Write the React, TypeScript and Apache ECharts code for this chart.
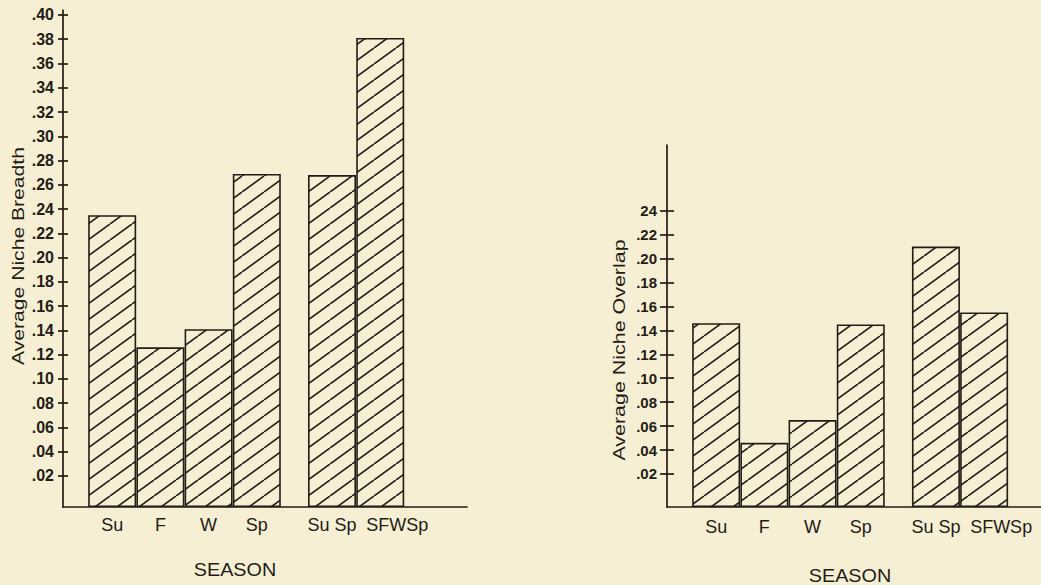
import React, { useEffect, useRef } from 'react';
import * as echarts from 'echarts';

// ---- data ----
const seasons = ['Su', 'F', 'W', 'Sp', 'Su Sp', 'SFWSp'];
const nicheBreadth = [0.235, 0.126, 0.141, 0.269, 0.268, 0.381];
const nicheOverlap = [0.146, 0.046, 0.065, 0.145, 0.21, 0.155];

const breadthTicks = [0.02, 0.04, 0.06, 0.08, 0.1, 0.12, 0.14, 0.16, 0.18, 0.2, 0.22, 0.24, 0.26, 0.28, 0.3, 0.32, 0.34, 0.36, 0.38, 0.4];
const breadthTickLabels = ['.02', '.04', '.06', '.08', '.10', '.12', '.14', '.16', '.18', '.20', '.22', '.24', '.26', '.28', '.30', '.32', '.34', '.36', '.38', '.40'];
const overlapTicks = [0.02, 0.04, 0.06, 0.08, 0.1, 0.12, 0.14, 0.16, 0.18, 0.2, 0.22, 0.24];
const overlapTickLabels = ['.02', '.04', '.06', '.08', '.10', '.12', '.14', '.16', '.18', '.20', '.22', '24'];

const xTitle = 'SEASON';
const breadthTitle = 'Average Niche Breadth';
const overlapTitle = 'Average Niche Overlap';

// ---- style ----
const INK = '#241c16';
const BG = '#f6efd4';
const FONT = '"Liberation Sans", Arial, Helvetica, sans-serif';
const GROUP_GAP = 0.56; // gap between single seasons and combined seasons (in bar widths)

const barPos = (i: number) => i + 0.5 + (i >= 4 ? GROUP_GAP : 0);
const positions = seasons.map((_, i) => barPos(i));

const nearest = (arr: number[], v: number) => {
  let best = 0;
  for (let i = 1; i < arr.length; i++) if (Math.abs(arr[i] - v) < Math.abs(arr[best] - v)) best = i;
  return best;
};

function makeHatch() {
  const W = 22, H = 16;
  const c = document.createElement('canvas');
  c.width = W; c.height = H;
  const ctx = c.getContext('2d')!;
  ctx.fillStyle = BG;
  ctx.fillRect(0, 0, W, H);
  ctx.strokeStyle = INK;
  ctx.lineWidth = 1.6;
  for (const dx of [-W, 0, W]) {
    ctx.beginPath();
    ctx.moveTo(dx, H);
    ctx.lineTo(dx + W, 0);
    ctx.stroke();
  }
  return { image: c, repeat: 'repeat', imageWidth: W, imageHeight: H };
}

function xAxisOf(gridIndex: number, max: number, margin: number) {
  return {
    type: 'value', gridIndex, min: -0.52, max,
    axisLine: { show: true, onZero: false, lineStyle: { color: INK, width: 1.7 } },
    axisTick: { show: false },
    splitLine: { show: false },
    axisLabel: {
      customValues: positions, margin, hideOverlap: false,
      formatter: (v: number) => {
        const i = nearest(positions, v);
        return i === seasons.length - 1 ? `{w|${seasons[i]}}` : `{n|${seasons[i]}}`;
      },
      rich: {
        n: { fontSize: 18, fontFamily: FONT, color: INK },
        w: { fontSize: 18, fontFamily: FONT, color: INK, padding: [0, 0, 0, 34] },
      },
    },
  };
}

function yAxesOf(gridIndex: number, min: number, max: number, ticks: number[], labels: string[], fs: number, margin: number, tl: number) {
  return [
    {
      type: 'value', gridIndex, min, max, position: 'left', startValue: min,
      axisLine: { show: true, onZero: false, lineStyle: { color: INK, width: 1.7 } },
      axisTick: { show: true, customValues: ticks, length: tl, lineStyle: { color: INK, width: 1.7 } },
      splitLine: { show: false },
      axisLabel: {
        customValues: ticks, margin, color: INK, fontSize: fs, fontWeight: 'bold', fontFamily: FONT,
        formatter: (v: number) => labels[nearest(ticks, v)],
      },
    },
    {
      type: 'value', gridIndex, min, max, position: 'left', offset: 0,
      axisLine: { show: false, onZero: false },
      axisTick: { show: true, inside: true, customValues: ticks, length: tl, lineStyle: { color: INK, width: 1.7 } },
      splitLine: { show: false },
      axisLabel: { show: false },
    },
  ];
}

export default function App() {
  const ref = useRef<HTMLDivElement>(null);
  useEffect(() => {
    document.body.style.margin = '0';
    const chart = echarts.init(ref.current!, null, { renderer: 'svg' });
    const hatch = makeHatch();
    const barStyle = { color: hatch as any, borderColor: INK, borderWidth: 1.6 };
    const option: any = {
      animation: false,
      backgroundColor: BG,
      grid: [
        { left: 63, top: 10, width: 404, height: 497, containLabel: false, outerBoundsMode: 'none' },
        { left: 667, top: 145, width: 374, height: 362, containLabel: false, outerBoundsMode: 'none' },
      ],
      xAxis: [xAxisOf(0, 7.86, 9), xAxisOf(1, 7.24, 11)],
      yAxis: [
        ...yAxesOf(0, -0.0056, 0.4041, breadthTicks, breadthTickLabels, 16, 9, 5),
        ...yAxesOf(1, -0.0076, 0.2949, overlapTicks, overlapTickLabels, 15, 10, 7),
      ],
      series: [
        {
          type: 'bar', xAxisIndex: 0, yAxisIndex: 0, barWidth: 48,
          data: nicheBreadth.map((v, i) => [positions[i], v]),
          itemStyle: barStyle,
        },
        {
          type: 'bar', xAxisIndex: 1, yAxisIndex: 2, barWidth: 48,
          data: nicheOverlap.map((v, i) => [positions[i], v]),
          itemStyle: barStyle,
        },
      ],
      graphic: [
        {
          type: 'text', x: 18, y: 256, rotation: Math.PI / 2, scaleX: 1.32,
          style: { text: breadthTitle, fontSize: 16, fontFamily: FONT, fill: INK, align: 'center', verticalAlign: 'middle', textAlign: 'center', textVerticalAlign: 'middle' },
        },
        {
          type: 'text', x: 620, y: 350, rotation: Math.PI / 2, scaleX: 1.34,
          style: { text: overlapTitle, fontSize: 16, fontFamily: FONT, fill: INK, align: 'center', verticalAlign: 'middle', textAlign: 'center', textVerticalAlign: 'middle' },
        },
        {
          type: 'text', x: 235, y: 570, scaleX: 1.1,
          style: { text: xTitle, fontSize: 18, fontFamily: FONT, fill: INK, align: 'center', verticalAlign: 'middle', textAlign: 'center', textVerticalAlign: 'middle' },
        },
        {
          type: 'text', x: 850, y: 576, scaleX: 1.1,
          style: { text: xTitle, fontSize: 18, fontFamily: FONT, fill: INK, align: 'center', verticalAlign: 'middle', textAlign: 'center', textVerticalAlign: 'middle' },
        },
      ],
    };
    chart.setOption(option);
    return () => chart.dispose();
  }, []);
  return <div ref={ref} style={{ position: 'fixed', left: 0, top: 0, width: 1041, height: 585, background: BG }} />;
}
